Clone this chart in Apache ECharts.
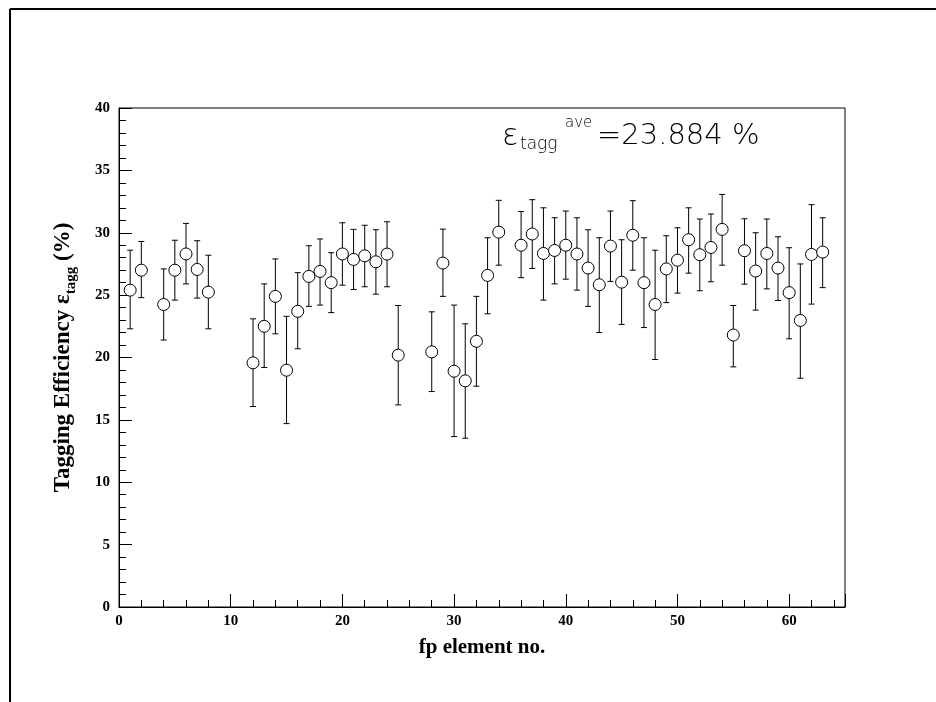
<!DOCTYPE html>
<html>
<head>
<meta charset="utf-8">
<script src="https://cdn.jsdelivr.net/npm/echarts@6/dist/echarts.min.js"></script>
<style>
  html, body { margin: 0; padding: 0; background: #fff; }
  #main { width: 936px; height: 702px; }
</style>
</head>
<body>
<div id="main"></div>
<script>
// fp elements and tagging efficiency (%), with error bar ends
var element = [1, 2, 4, 5, 6, 7, 8, 12, 13, 14, 15, 16, 17, 18, 19, 20, 21, 22, 23, 24, 25,
  28, 29, 30, 31, 32, 33, 34, 36, 37, 38, 39, 40, 41, 42, 43, 44, 45, 46, 47, 48, 49, 50,
  51, 52, 53, 54, 55, 56, 57, 58, 59, 60, 61, 62, 63];
var eff = [25.4, 27.0, 24.25, 27.0, 28.3, 27.06, 25.24, 19.57, 22.5, 24.9, 18.98, 23.7, 26.5, 26.9, 26.0, 28.3, 27.86,
  28.15, 27.67, 28.29, 20.19, 20.45, 27.57, 18.9, 18.13, 21.3, 26.58, 30.05, 29.0, 29.9, 28.34, 28.58, 29.0, 28.3,
  27.17, 25.83, 28.93, 26.04, 29.8, 26.0, 24.25, 27.1, 27.8, 29.44, 28.24, 28.82, 30.27, 21.8, 28.56, 26.93,
  28.34, 27.17, 25.2, 22.97, 28.26, 28.45];
var errTop = [28.6, 29.3, 27.1, 29.4, 30.75, 29.36, 28.2, 23.1, 25.9, 27.9, 23.3, 26.8, 28.96, 29.5, 28.4, 30.8, 30.27,
  30.6, 30.24, 30.88, 24.17, 23.66, 30.29, 24.2, 22.7, 24.9, 29.6, 32.6, 31.7, 32.65, 32.0, 31.2, 31.74, 31.2,
  30.24, 29.6, 31.74, 29.44, 32.57, 29.6, 28.6, 29.76, 30.4, 32.0, 31.1, 31.5, 33.07, 24.17, 31.12, 30.0,
  31.1, 29.68, 28.8, 27.5, 32.25, 31.2];
var errBottom = [22.3, 24.8, 21.4, 24.6, 25.9, 24.76, 22.3, 16.07, 19.2, 21.9, 14.7, 20.7, 24.1, 24.2, 23.6, 25.8, 25.45,
  25.67, 25.08, 25.67, 16.2, 17.27, 24.9, 13.66, 13.53, 17.7, 23.5, 27.4, 26.4, 27.14, 24.6, 25.9, 26.28, 25.4,
  24.1, 22.0, 26.1, 22.65, 27.0, 22.4, 19.84, 24.4, 25.16, 26.76, 25.35, 26.07, 27.4, 19.25, 25.88, 23.8,
  25.5, 24.57, 21.5, 18.34, 24.28, 25.6];

var points = [];
var bars = [];
for (var i = 0; i < element.length; i++) {
    points.push([element[i], eff[i]]);
    bars.push([element[i], errBottom[i], errTop[i]]);
}

var serif = '"Liberation Serif", "Times New Roman", serif';
var thin = '"DejaVu Sans", sans-serif';

var myChart = echarts.init(document.getElementById('main'));
var option = {
    backgroundColor: '#fff',
    animation: false,
    grid: {
        left: 119, right: 91, top: 108, bottom: 95,
        show: true, borderColor: '#000', borderWidth: 1
    },
    xAxis: {
        type: 'value',
        min: 0, max: 65, interval: 10,
        name: 'fp element no.',
        nameLocation: 'middle',
        nameGap: 30,
        nameTextStyle: { fontFamily: serif, fontWeight: 'bold', fontSize: 21, color: '#000' },
        axisLine: { lineStyle: { color: '#000', width: 1 } },
        axisTick: { inside: true, length: 13, lineStyle: { color: '#000' } },
        minorTick: { show: true, splitNumber: 5, length: 7, lineStyle: { color: '#000' } },
        axisLabel: { fontFamily: serif, fontWeight: 'bold', fontSize: 15, color: '#000', margin: 7, showMaxLabel: false },
        splitLine: { show: false }
    },
    yAxis: {
        type: 'value',
        min: 0, max: 40, interval: 5,
        name: 'Tagging Efficiency ε{sub|tagg} (%)',
        nameLocation: 'middle',
        nameGap: 40,
        nameRotate: 90,
        nameTextStyle: {
            fontFamily: serif, fontWeight: 'bold', fontSize: 23, color: '#000', lineHeight: 32,
            rich: {
                sub: { fontFamily: serif, fontWeight: 'bold', fontSize: 15, color: '#000', verticalAlign: 'bottom', lineHeight: 24 }
            }
        },
        axisLine: { lineStyle: { color: '#000', width: 1 } },
        axisTick: { inside: true, length: 13, lineStyle: { color: '#000' } },
        minorTick: { show: true, splitNumber: 5, length: 7, lineStyle: { color: '#000' } },
        axisLabel: { fontFamily: serif, fontWeight: 'bold', fontSize: 15, color: '#000', margin: 9 },
        splitLine: { show: false }
    },
    graphic: [
        { type: 'line', shape: { x1: 10, y1: 9, x2: 936, y2: 9 }, style: { stroke: '#000', lineWidth: 2 } },
        { type: 'line', shape: { x1: 10, y1: 9, x2: 10, y2: 702 }, style: { stroke: '#000', lineWidth: 2 } },
        { type: 'text', left: 502, top: 122, style: { text: 'ɛ', font: '200 30px ' + thin, fill: '#000' } },
        { type: 'text', left: 520, top: 136, style: { text: 'tagg', font: '200 17px ' + thin, fill: '#000' } },
        { type: 'text', left: 565, top: 116, style: { text: 'ave', font: '200 15px ' + thin, fill: '#000' } },
        { type: 'text', left: 597, top: 122, style: { text: '=23.884 %', font: '200 29px ' + thin, fill: '#000' } }
    ],
    series: [
        {
            type: 'custom',
            data: bars,
            renderItem: function (params, api) {
                var top = api.coord([api.value(0), api.value(2)]);
                var bottom = api.coord([api.value(0), api.value(1)]);
                var cap = 3;
                var st = { stroke: '#000', lineWidth: 1 };
                return {
                    type: 'group',
                    children: [
                        { type: 'line', shape: { x1: top[0], y1: top[1], x2: bottom[0], y2: bottom[1] }, style: st },
                        { type: 'line', shape: { x1: top[0] - cap, y1: top[1], x2: top[0] + cap, y2: top[1] }, style: st },
                        { type: 'line', shape: { x1: bottom[0] - cap, y1: bottom[1], x2: bottom[0] + cap, y2: bottom[1] }, style: st }
                    ]
                };
            },
            z: 1
        },
        {
            type: 'scatter',
            data: points,
            symbol: 'circle',
            symbolSize: 12,
            itemStyle: { color: '#fff', borderColor: '#000', borderWidth: 1, opacity: 1 },
            z: 2
        }
    ]
};
myChart.setOption(option);
</script>
</body>
</html>
